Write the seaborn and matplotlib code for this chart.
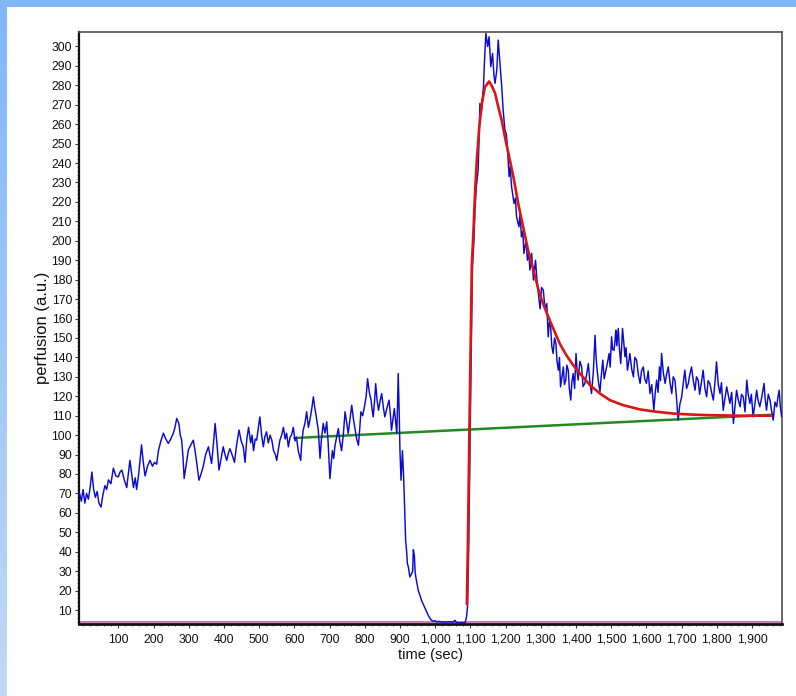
import numpy as np
import pandas as pd
import matplotlib
matplotlib.use("Agg")
import matplotlib.pyplot as plt
from matplotlib.ticker import MultipleLocator, FixedLocator, FuncFormatter
import seaborn as sns

# Laser-Doppler perfusion trace (a.u.) over time (sec)
blue_t = [-10, -5, 0, 5, 10, 15, 20, 25, 30, 35, 40, 45, 51, 56, 62, 67, 72, 79, 86, 93,
          100, 105, 110, 117, 124, 133, 138, 143, 148, 152, 158, 166, 171, 176, 183, 190, 197, 203, 209, 214,
          221, 228, 235, 242, 249, 256, 261, 266, 272, 276, 280, 284, 287, 293, 299, 306, 313, 318, 323, 329,
          335, 341, 348, 356, 360, 365, 370, 375, 380, 386, 392, 398, 403, 408, 413, 417, 423, 430, 436, 443,
          449, 455, 460, 465, 470, 476, 480, 484, 489, 493, 498, 502, 507, 512, 516, 521, 526, 531, 536, 541,
          546, 550, 555, 559, 564, 569, 574, 578, 583, 588, 592, 597, 602, 606, 611, 618, 621, 625, 630, 635,
          640, 644, 649, 654, 658, 661, 665, 668, 673, 677, 682, 687, 692, 696, 701, 705, 708, 712, 715, 720,
          725, 729, 734, 739, 744, 749, 753, 758, 763, 768, 772, 777, 782, 786, 789, 794, 799, 804, 808, 813,
          818, 821, 824, 828, 831, 835, 839, 844, 848, 853, 857, 863, 869, 873, 876, 880, 884, 888, 891, 893,
          895, 898, 900, 903, 907, 910, 912, 914, 916, 919, 921, 924, 928, 933, 936, 938, 941, 943, 945, 948,
          952, 956, 961, 966, 971, 976, 981, 986, 990, 995, 1000, 1005, 1010, 1014, 1020, 1025, 1030, 1035, 1040, 1045,
          1051, 1056, 1060, 1065, 1070, 1075, 1080, 1085, 1089, 1092, 1095, 1098, 1101, 1104, 1106, 1110, 1113, 1117, 1122, 1125,
          1127, 1132, 1135, 1137, 1141, 1144, 1149, 1153, 1158, 1163, 1167, 1170, 1175, 1179, 1184, 1189, 1193, 1198, 1202, 1205,
          1210, 1213, 1217, 1224, 1228, 1231, 1238, 1241, 1245, 1249, 1252, 1258, 1262, 1266, 1269, 1274, 1279, 1285, 1289, 1293,
          1298, 1302, 1307, 1312, 1317,
          1321, 1324, 1328, 1331, 1335, 1339, 1343, 1346, 1350, 1353, 1356, 1360, 1364, 1367, 1371, 1374, 1378, 1381, 1385, 1388,
          1392, 1396, 1400, 1403, 1406, 1411, 1416, 1420, 1425, 1430, 1435, 1439, 1444, 1449, 1454, 1457, 1460, 1464, 1468, 1472,
          1476, 1480, 1485, 1489, 1494, 1497, 1501, 1504, 1508, 1511, 1513, 1516, 1520, 1523, 1527, 1530, 1532, 1536, 1539, 1542,
          1546, 1550, 1553, 1558, 1563, 1567, 1572, 1577, 1582, 1586, 1591, 1595, 1600, 1605, 1610, 1615, 1621, 1625, 1629, 1633,
          1637, 1640, 1643, 1648, 1653, 1657, 1662, 1667, 1672, 1676, 1681, 1685, 1690, 1695, 1700, 1704, 1709, 1714, 1719, 1723,
          1728, 1733, 1738, 1742, 1747, 1751, 1756, 1761, 1766, 1771, 1775, 1780, 1785, 1790, 1795, 1799, 1804, 1809, 1813, 1818,
          1823, 1828, 1832, 1837, 1842, 1847, 1851, 1856, 1861, 1866, 1870, 1875, 1880, 1885, 1889, 1894, 1898, 1903, 1908, 1913,
          1917, 1922, 1928, 1934, 1937, 1941, 1946, 1951, 1955, 1960, 1965, 1970, 1973, 1977, 1980, 1984]
blue_v = [70, 66, 72, 65, 70, 67, 73, 81, 72, 68, 71, 65, 63, 69, 74, 72, 77, 75, 83, 79,
          78.5, 81, 82, 77, 73, 87, 80, 73, 78, 72, 80, 95, 86, 79, 84, 87, 84, 86, 85, 92,
          97, 101, 98, 95.7, 98, 100.8, 104, 108.6, 106, 100, 97.4, 88, 77.7, 85, 92.3, 95, 97.4, 92, 85.4, 76.8,
          80, 83.7, 90, 94, 90, 85.4, 95, 106, 96, 82, 88, 94, 90, 87, 91, 93, 90, 86, 95, 102.6,
          97, 94, 86, 98, 104, 96, 100, 92, 98, 97.4, 104, 109.4, 100, 94, 99, 101.7, 96, 100, 97.4, 92,
          90, 87, 93, 97.4, 100, 104, 98, 101, 94, 99, 100, 104, 97, 99, 92, 87, 96, 102.5, 106, 112,
          104, 107.7, 113, 119.7, 114, 111, 106, 102.5, 88, 98, 106, 101, 106.8, 96, 77.6, 86, 92, 88, 94, 99,
          103.4, 97, 92, 100, 112, 106, 100.8, 108, 115.4, 108, 103.4, 98, 94.8, 104, 112, 110, 114.5, 120, 129, 122,
          118, 113, 109.4, 118, 126.5, 118, 112.8, 118, 121.4, 114, 109.4, 114, 118, 110, 102.5, 108, 113.7, 106, 100.8, 115,
          131.7, 110, 92, 76.8, 92, 80, 70, 58, 46, 40, 34, 32, 27, 28.7, 30, 41, 38, 29.6, 27, 24,
          20, 18, 15, 13, 11, 9, 7, 5.5, 4.7, 4.2, 4.5, 3.8, 4.2, 3.9, 4.0, 3.7, 3.9, 3.8, 4.0, 3.9,
          3.8, 4.7, 3.6, 3.5, 3.4, 3.5, 3.4, 3.5, 6.4, 12, 40, 80, 125, 165, 187, 200, 215.8, 228, 236.4, 255,
          270.7, 267, 275, 279, 296.4, 306.7, 300, 305, 289.6, 296.4, 285, 281, 287.9, 303.3, 291.3, 279.3, 267.3, 257, 255, 248.4,
          233, 238, 227.8, 219.2, 222, 212.4, 207.2, 214, 202, 205, 193.5, 200.3, 190, 194, 184.9, 193.5, 179.8, 190, 180, 172.9,
          165, 176, 174.6, 165, 167.7,
          150.6, 158, 155.7, 146, 142, 150, 147.2, 138, 133.4, 140, 124.8, 130, 135.1, 126, 128.3, 136, 133.4, 124, 118, 127,
          131.7, 124, 142, 133, 128.3, 138, 135.1, 125, 126.6, 131, 136.8, 128, 121.4, 132, 151.4, 140, 133.4, 127, 122.3, 131,
          138.6, 129, 133.4, 137, 142, 135, 150.6, 144, 143.7, 149, 154, 146, 154.9, 145, 136.8, 147, 154.9, 147, 140.3, 145,
          133.4, 138, 142, 134, 130, 140, 138.6, 131, 126.6, 133, 135.1, 129, 126.6, 133, 121.4, 126, 112.8, 122, 128.3, 122,
          135.1, 128, 142, 132, 126.6, 131, 135.1, 127, 121.4, 130, 128.3, 120, 107.7, 116, 119.7, 126, 133.4, 124, 126.6, 131,
          135.1, 128, 123.1, 130, 128.3, 121, 127, 133.4, 124, 119.7, 128, 126.6, 122, 118, 128, 137.7, 126, 121.4, 127, 112.8,
          119, 124.8, 121, 116.3, 122, 106, 114, 123.1, 118, 114.6, 121, 119.7, 112, 128.3, 121, 116.3, 121, 109.4, 116, 123.1,
          118, 114.6, 120, 126.6, 119, 112.8, 121, 118, 113, 107.7, 117, 114.6, 119, 123.1, 115, 109.4]

# Fitted reperfusion curve
red_t = [1090, 1093, 1097, 1101, 1104, 1108, 1113, 1118, 1125, 1132, 1141, 1153, 1160, 1170, 1179,
         1189, 1198, 1208, 1222, 1236, 1250, 1264, 1279, 1293, 1298, 1310, 1321, 1335, 1354, 1373,
         1392, 1411, 1440, 1468, 1496, 1534, 1582, 1629, 1676, 1724, 1771, 1866, 1955]
red_v = [13, 45, 100, 150, 187, 202, 224, 241, 258, 270, 279, 282, 280, 276, 269,
         262, 253.5, 245, 233, 219, 207, 195, 185, 175, 172, 166, 161, 155, 147, 141,
         136, 131.7, 125.7, 121.4, 118, 115.4, 113.2, 112, 111.1, 110.6, 110.3, 110, 110]

# Baseline drift
green_t = [600, 1960]
green_v = [98.5, 110.5]

blue_df = pd.DataFrame({"time": blue_t, "perfusion": blue_v})
red_df = pd.DataFrame({"time": red_t, "perfusion": red_v})
green_df = pd.DataFrame({"time": green_t, "perfusion": green_v})

sns.set_theme(style="white")
plt.rcParams["font.family"] = ["Liberation Sans", "DejaVu Sans"]

W, H = 796, 696
fig = plt.figure(figsize=(W / 100, H / 100), dpi=100)
fig.patch.set_facecolor("white")

# light-blue frame strips (top and left, left one fading downward)
top_ax = fig.add_axes([0, 1 - 7 / H, 1, 7 / H])
top_ax.axis("off")
top_ax.imshow(np.ones((1, 2, 3)) * np.array([0.50, 0.72, 0.98]), aspect="auto", extent=[0, 1, 0, 1])
left_ax = fig.add_axes([0, 0, 7 / W, 1])
left_ax.axis("off")
grad = np.linspace(0, 1, 256)[:, None]
c_top = np.array([0.50, 0.72, 0.98])
c_bot = np.array([0.76, 0.85, 0.95])
left_img = (c_top[None, None, :] * (1 - grad[:, :, None]) + c_bot[None, None, :] * grad[:, :, None])
left_ax.imshow(left_img, aspect="auto", extent=[0, 1, 0, 1], origin="upper")

ax = fig.add_axes([79 / W, 1 - 624 / H, (782 - 79) / W, (624 - 31.7) / H])
ax.set_facecolor("white")

ax.axhline(3.9, color="#c27ab8", lw=1.4, zorder=1)
sns.lineplot(data=green_df, x="time", y="perfusion", ax=ax, color="#238a23", lw=1.8,
             sort=False, estimator=None, zorder=2)
sns.lineplot(data=blue_df, x="time", y="perfusion", ax=ax, color="#0a0ad2", lw=1.05,
             sort=False, estimator=None, zorder=3)
sns.lineplot(data=red_df, x="time", y="perfusion", ax=ax, color="#dd1414", lw=1.9,
             sort=False, estimator=None, zorder=4)

ax.set_xlim(-11.6, 1985)
ax.set_ylim(2.8, 307.6)

ax.xaxis.set_major_locator(FixedLocator(np.arange(100, 2000, 100)))
ax.xaxis.set_minor_locator(MultipleLocator(20))
ax.yaxis.set_major_locator(FixedLocator(np.arange(10, 310, 10)))
ax.yaxis.set_minor_locator(MultipleLocator(2))
ax.xaxis.set_major_formatter(FuncFormatter(lambda v, p: f"{int(v):,}"))
ax.yaxis.set_major_formatter(FuncFormatter(lambda v, p: f"{int(v)}"))

ax.tick_params(axis="both", which="major", direction="out", length=3, width=0.8,
               color="#333333", labelsize=8.8, labelcolor="#111111", bottom=True, left=True)
ax.tick_params(axis="x", which="major", pad=4)
ax.tick_params(axis="y", which="major", pad=2)
ax.tick_params(axis="both", which="minor", direction="out", length=1.6, width=0.6,
               color="#555555", bottom=True, left=True)

for side, col, lw in [("left", "#111111", 1.6), ("bottom", "#111111", 2.0),
                      ("top", "#505050", 1.2), ("right", "#505050", 1.2)]:
    ax.spines[side].set_visible(True)
    ax.spines[side].set_color(col)
    ax.spines[side].set_linewidth(lw)

ax.set_xlabel("time (sec)", fontsize=10.6, color="#111111", labelpad=2)
ax.set_ylabel("perfusion (a.u.)", fontsize=12, color="#111111", labelpad=1)
ax.legend_ = None

fig.savefig("out.png", dpi=100, facecolor="white")
